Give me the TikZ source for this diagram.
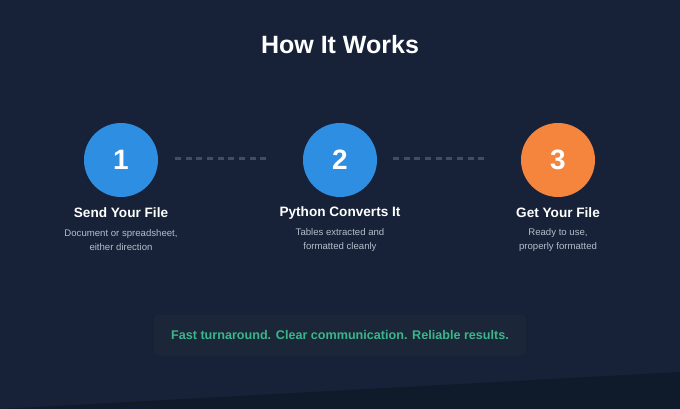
\documentclass[tikz,border=0pt]{standalone}
\usepackage{fontspec}
\setmainfont{Liberation Sans}
\definecolor{bg}{HTML}{172239}
\definecolor{bgdark}{HTML}{0F1A2B}
\definecolor{stepblue}{HTML}{2E8FE2}
\definecolor{steporange}{HTML}{F5853C}
\definecolor{desc}{HTML}{B4BDCA}
\definecolor{dashc}{HTML}{414D63}
\definecolor{boxc}{HTML}{1B2738}
\definecolor{greent}{HTML}{3BB58A}
\tikzset{
  stepcircle/.style={circle, minimum size=74pt, inner sep=0pt, text=white, font=\fontsize{28}{30}\selectfont\bfseries},
  steptitle/.style={text=white, font=\fontsize{13.6}{16}\selectfont\bfseries, inner sep=0pt},
  stepdesc/.style={text=desc, font=\fontsize{9.6}{14}\selectfont, align=center, inner sep=0pt},
  connector/.style={dashc, line width=3pt, dash pattern=on 6pt off 4.67pt},
}
\begin{document}
\begin{tikzpicture}[x=1pt,y=-1pt]
\fill[bg] (0,0) rectangle (680,409);
\useasboundingbox (0,0) rectangle (680,409);
\fill[bgdark] (0,409) -- (680,372) -- (680,409) -- cycle;
\node[text=white, font=\fontsize{25}{30}\selectfont\bfseries, inner sep=0pt] (title) at (340,45) {How It Works};
\node[stepcircle, fill=stepblue] (c1) at (121,160) {1};
\node[stepcircle, fill=stepblue] (c2) at (340,160) {2};
\node[stepcircle, fill=steporange] (c3) at (558,160) {3};
\coordinate (d1a) at (175,159); \coordinate (d1b) at (267,159);
\coordinate (d2a) at (393,159); \coordinate (d2b) at (485,159);
\draw[connector] (d1a) -- (d1b);
\draw[connector] (d2a) -- (d2b);
\node[steptitle] (t1) at (121,213) {Send Your File};
\node[steptitle] (t2) at (340,213) {Python Converts It};
\node[steptitle] (t3) at (558,213) {Get Your File};
\node[stepdesc] (s1) at (121,240) {Document or spreadsheet,\\either direction};
\node[stepdesc] (s2) at (340,240) {Tables extracted and\\formatted cleanly};
\node[stepdesc] (s3) at (558,240) {Ready to use,\\properly formatted};
\node[fill=boxc, rounded corners=5pt, minimum width=372pt, minimum height=41pt, inner sep=0pt] (box) at (340,335) {};
\node[text=greent, font=\fontsize{12.6}{15}\selectfont\bfseries, inner sep=0pt] (tag) at (box) {Fast turnaround. Clear communication. Reliable results.};
\end{tikzpicture}
\end{document}
